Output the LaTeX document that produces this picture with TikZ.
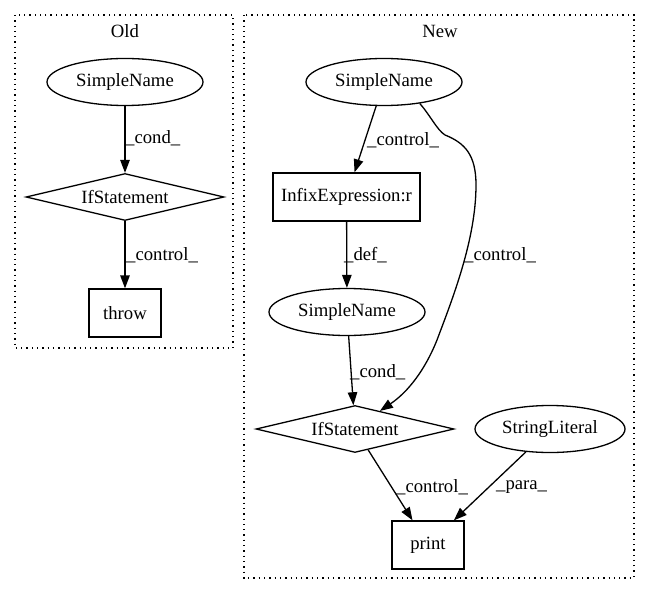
\documentclass[tikz,border=0pt]{standalone}
\usepackage{fontspec}
\setmainfont{Liberation Serif}
\usetikzlibrary{shapes.geometric,arrows.meta}
\tikzset{
  every node/.style={font=\fontsize{18.7}{22}\selectfont},
  ell/.style={ellipse, draw, line width=1.3pt, minimum width=156pt, minimum height=47pt, inner sep=1pt},
  box/.style={rectangle, draw, line width=1.3pt, minimum width=72pt, minimum height=48pt, inner sep=2pt},
  dia/.style={diamond, draw, line width=1.3pt, aspect=4.2, inner sep=1pt, minimum width=198pt, minimum height=47pt},
  arr/.style={-{Triangle[length=13pt,width=9.5pt]}, line width=1.3pt},
  lbl/.style={anchor=west, inner sep=0pt},
  clus/.style={draw, line width=1.3pt, dash pattern=on 1.3pt off 4pt},
}
\begin{document}
\begin{tikzpicture}[x=1pt,y=-1pt]
\useasboundingbox (0,0) rectangle (652,596);
% clusters
\draw[clus] (15,15) rectangle (233,348);
\node (oldlbl) at (125,31) {Old};
\draw[clus] (244,15) rectangle (634,578);
\node (newlbl) at (440,31) {New};
% Old nodes
\node[ell] (o1) at (125,82) {SimpleName};
\node[dia] (o2) at (125,197) {IfStatement};
\node[box] (o3) at (125,313) {throw};
\draw[arr] (o1) -- (o2);
\draw[arr] (o2) -- (o3);
\node[lbl] (ol1) at (125,138) {\_cond\_};
\node[lbl] (ol2) at (126,255) {\_control\_};
% New nodes
\node[ell] (s1) at (384,82) {SimpleName};
\node[box, minimum width=147pt] (ix) at (346.5,197) {InfixExpression:r};
\node[ell] (s2) at (347,312) {SimpleName};
\node[dia] (ifn) at (355,429) {IfStatement};
\node[ell, minimum width=150pt] (sl) at (550,429) {StringLiteral};
\node[box] (pr) at (428,545) {print};
\draw[arr] (s1) -- (ix);
\draw[arr] (ix) -- (s2);
\draw[arr] (s2) -- (ifn);
\draw[arr] (ifn) -- (pr);
\draw[arr] (sl) -- (pr);
\draw[arr] (s1.-31) .. controls (430,115) and (437,130) .. (445,135)
  .. controls (465,143) and (476,155) .. (476,185)
  .. controls (476,240) and (452,300) .. (437,340)
  .. controls (425,370) and (408,392) .. (ifn.36);
\node[lbl] (nl1) at (367,140) {\_control\_};
\node[lbl] (nl2) at (344,255) {\_def\_};
\node[lbl] (nl3) at (464,255) {\_control\_};
\node[lbl] (nl4) at (350,372) {\_cond\_};
\node[lbl] (nl5) at (396,487) {\_control\_};
\node[lbl] (nl6) at (496,487) {\_para\_};
\end{tikzpicture}
\end{document}
